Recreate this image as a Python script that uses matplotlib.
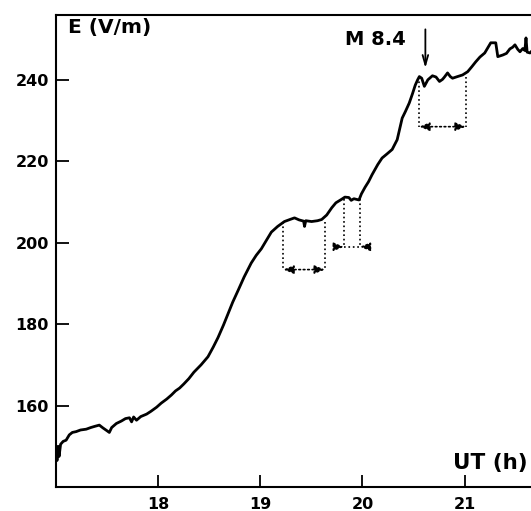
import matplotlib.pyplot as plt

plt.rcParams['font.family'] = ['DejaVu Sans']
plt.rcParams['font.weight'] = 'bold'

# E-field record (UT hours, V/m)
ut = [17.000, 17.010, 17.020, 17.030, 17.045, 17.070, 17.099, 17.130, 17.160, 17.197,
      17.240, 17.296, 17.340, 17.380, 17.424, 17.460, 17.500, 17.522, 17.545, 17.591,
      17.640, 17.680, 17.719, 17.740, 17.760, 17.788, 17.830, 17.887, 17.930, 17.985,
      18.030, 18.084, 18.130, 18.170, 18.210, 18.251, 18.300, 18.350, 18.420, 18.488,
      18.540, 18.586, 18.640, 18.685, 18.730, 18.783, 18.842, 18.911, 18.960, 19.010,
      19.060, 19.108, 19.170, 19.236, 19.290, 19.335, 19.380, 19.424, 19.433, 19.445,
      19.502, 19.560, 19.601, 19.650, 19.700, 19.740, 19.798, 19.828, 19.867, 19.890,
      19.916, 19.966, 19.990, 20.025, 20.060, 20.094, 20.150, 20.192, 20.240, 20.291,
      20.340, 20.389, 20.420, 20.458, 20.490, 20.517, 20.540, 20.557, 20.580, 20.606,
      20.640, 20.685, 20.720, 20.754, 20.783, 20.800, 20.833, 20.860, 20.882, 20.930,
      20.980, 21.030, 21.070, 21.108, 21.150, 21.197, 21.230, 21.256, 21.305, 21.325,
      21.374, 21.410, 21.443, 21.470, 21.493, 21.520, 21.542, 21.570, 21.590, 21.601,
      21.612, 21.640, 21.670]
efield = [149.5, 146.5, 150.0, 147.5, 150.5, 151.2, 151.5, 152.8, 153.4, 153.6,
          154.0, 154.2, 154.6, 154.9, 155.2, 154.5, 153.8, 153.4, 154.6, 155.6,
          156.2, 156.8, 157.0, 156.0, 157.2, 156.4, 157.3, 157.9, 158.6, 159.6,
          160.6, 161.6, 162.6, 163.6, 164.3, 165.3, 166.6, 168.2, 170.0, 172.0,
          174.4, 176.7, 179.8, 182.6, 185.4, 188.3, 191.6, 195.0, 196.9, 198.5,
          200.6, 202.6, 204.0, 205.2, 205.7, 206.1, 205.6, 205.3, 204.0, 205.4,
          205.2, 205.4, 205.7, 206.8, 208.6, 209.8, 210.7, 211.2, 211.1, 210.4,
          210.8, 210.5, 212.0, 213.6, 215.0, 216.7, 219.2, 220.8, 221.8, 222.9,
          225.3, 230.6, 232.2, 234.3, 236.6, 238.7, 240.0, 240.8, 240.4, 238.4,
          240.0, 241.0, 240.7, 239.6, 240.1, 240.6, 241.7, 240.8, 240.4, 240.8,
          241.2, 242.0, 243.2, 244.4, 245.6, 246.6, 248.0, 249.1, 249.1, 245.7,
          246.1, 246.5, 247.6, 248.0, 248.6, 247.5, 246.9, 247.7, 247.2, 250.3,
          246.8, 246.6, 247.4]

# marked plateaus: start, end, level at curve, level of the arrow
plateau_start = [19.227, 19.818, 20.557]
plateau_end = [19.631, 19.975, 21.010]
plateau_top = [205.2, 210.8, 240.8]
plateau_arrow = [193.4, 199.0, 228.5]

yticks = [160, 180, 200, 220, 240]
xticks = [18, 19, 20, 21]

fig = plt.figure(figsize=(5.31, 5.11), dpi=100)
ax = fig.add_axes([56 / 531, 24 / 511, 1 - 56 / 531, (487 - 14.7) / 511])

ax.plot(ut, efield, color='black', lw=2.0)

for i in range(3):
    x0, x1 = plateau_start[i], plateau_end[i]
    ax.plot([x0, x0], [plateau_top[i], plateau_arrow[i]], color='black', ls=':', lw=1.2)
    ax.plot([x1, x1], [plateau_top[i], plateau_arrow[i]], color='black', ls=':', lw=1.2)
    if i == 1:
        # arrows pointing inward from outside
        ax.plot([x0, x1], [plateau_arrow[i]] * 2, color='black', ls=':', lw=1.2)
        ax.annotate('', xy=(x0, plateau_arrow[i]), xytext=(x0 - 0.09, plateau_arrow[i]),
                    arrowprops=dict(arrowstyle='-|>,head_length=0.6,head_width=0.25',
                                    ls=':', lw=1.2, color='black', shrinkA=0, shrinkB=0))
        ax.annotate('', xy=(x1, plateau_arrow[i]), xytext=(x1 + 0.1, plateau_arrow[i]),
                    arrowprops=dict(arrowstyle='-|>,head_length=0.6,head_width=0.25',
                                    ls=':', lw=1.2, color='black', shrinkA=0, shrinkB=0))
    else:
        ax.annotate('', xy=(x0, plateau_arrow[i]), xytext=(x1, plateau_arrow[i]),
                    arrowprops=dict(arrowstyle='<|-|>,head_length=0.6,head_width=0.25',
                                    ls=':', lw=1.2, color='black', shrinkA=0, shrinkB=0))

# earthquake marker
ax.annotate('', xy=(20.616, 242.9), xytext=(20.616, 252.4),
            arrowprops=dict(arrowstyle='->,head_length=0.7,head_width=0.2',
                            lw=1.3, color='black', shrinkA=0, shrinkB=0))
ax.text(19.83, 249.8, 'M 8.4', fontsize=14, fontweight='bold', va='center', ha='left')

ax.text(17.12, 252.9, 'E (V/m)', fontsize=14.5, fontweight='bold', va='center', ha='left')
ax.text(20.89, 145.8, 'UT (h)', fontsize=15.5, fontweight='bold', va='center', ha='left')

ax.set_xlim(17, 21.65)
ax.set_ylim(140, 256)
ax.set_xticks(xticks)
ax.set_yticks(yticks)
ax.tick_params(direction='in', length=9, width=1.3, labelsize=11.5, pad=5)
ax.tick_params(axis='x', pad=7)
for lab in ax.get_xticklabels() + ax.get_yticklabels():
    lab.set_fontweight('bold')

ax.spines['right'].set_visible(False)
for s in ['left', 'bottom', 'top']:
    ax.spines[s].set_linewidth(1.5)

fig.savefig('out.png', dpi=100)
